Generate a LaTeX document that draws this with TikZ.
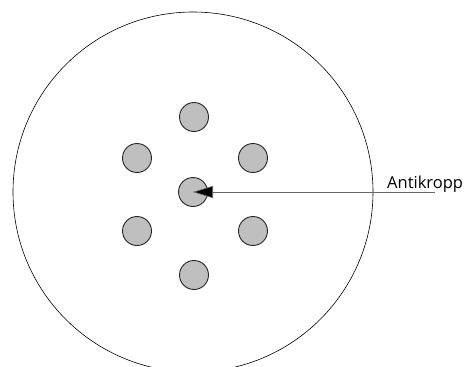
\documentclass[tikz,border=0pt]{standalone}
\usepackage{fontspec}
\setmainfont{Open Sans}
\usetikzlibrary{arrows.meta, positioning}

\tikzset{
  prik/.style={circle, draw=black!85, line width=0.9pt, fill=gray!50,
               minimum size=29pt, inner sep=0pt},
  pil/.style={draw=black!60, line width=0.6pt,
              -{Triangle[length=20pt,width=12pt,fill=black]}}
}

\begin{document}
\begin{tikzpicture}[x=1pt,y=-1pt]
  \useasboundingbox (0,0) rectangle (464,367);

  % ---------- stor sirkel ----------
  \begin{scope}
    \clip (0,0) rectangle (464,367);
    \draw[line width=0.6pt] (193,192) circle[radius=180];
  \end{scope}

  % ---------- prikker ----------
  \foreach \n/\x/\y in {top/194/117, ul/137/158, ur/253/158,
                        ll/137/231, lr/253/231, bot/194/275}
    \node[prik] (\n) at (\x,\y) {};
  \node[prik] (mid) at (193,192) {};

  % ---------- etikett ----------
  \node[anchor=base west, inner sep=0pt, font=\fontsize{16.5}{19}\selectfont]
    (lab) at (387,188) {Antikropp};
  \coordinate (start) at (435,192);
  \draw[pil] (start) -- (mid.center);

\end{tikzpicture}
\end{document}
